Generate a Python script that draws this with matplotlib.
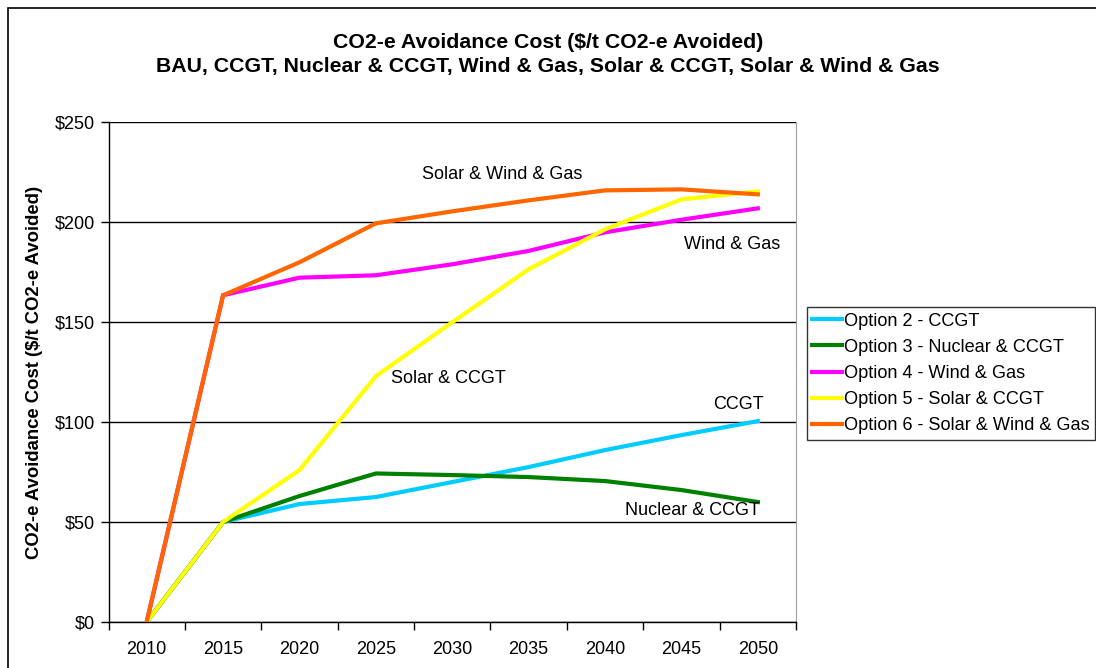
import numpy as np
import matplotlib.pyplot as plt
from matplotlib.patches import Rectangle

plt.rcParams['font.family'] = ['Liberation Sans', 'DejaVu Sans']

years = ['2010', '2015', '2020', '2025', '2030', '2035', '2040', '2045', '2050']
ccgt = [0, 50, 59, 62.5, 70, 77.5, 86, 93.5, 100.5]
nuclear_ccgt = [0, 50, 63, 74.3, 73.5, 72.5, 70.5, 66, 60]
wind_gas = [0, 163.5, 172.3, 173.5, 179, 185.7, 195, 201.3, 207]
solar_ccgt = [0, 50, 76, 123, 150, 176.5, 196.5, 211.5, 215.5]
solar_wind_gas = [0, 163.5, 180, 199.5, 205.5, 211, 216, 216.5, 214]

series = [
    ('Option 2 - CCGT', ccgt, '#00CCFF'),
    ('Option 3 - Nuclear & CCGT', nuclear_ccgt, '#008000'),
    ('Option 4 - Wind & Gas', wind_gas, '#FF00FF'),
    ('Option 5 - Solar & CCGT', solar_ccgt, '#FFFF00'),
    ('Option 6 - Solar & Wind & Gas', solar_wind_gas, '#FF6600'),
]

fig = plt.figure(figsize=(10.96, 6.68), dpi=100)
ax = fig.add_axes([0.099, 0.069, 0.6273, 0.7477])

x = np.arange(len(years))
for label, vals, color in series:
    ax.plot(x, vals, color=color, lw=3.0, label=label, solid_joinstyle='miter', zorder=3)

ax.set_xlim(-0.5, len(years) - 0.5)
ax.set_ylim(0, 250)
ax.set_xticks(x)
ax.set_xticklabels(years, fontsize=13)
ax.set_xticks(np.arange(-0.5, len(years)), minor=True)
ax.tick_params(axis='x', which='major', length=0, pad=14)
ax.tick_params(axis='x', which='minor', length=6, width=1, direction='out')
ax.set_yticks([0, 50, 100, 150, 200, 250])
ax.set_yticklabels(['$0', '$50', '$100', '$150', '$200', '$250'], fontsize=13)
ax.tick_params(axis='y', length=6, width=1, direction='out', pad=4)
ax.yaxis.grid(True, color='black', lw=1)
ax.set_axisbelow(True)
ax.spines['top'].set_visible(False)
ax.spines['right'].set_color('#A0A0A0')
ax.spines['left'].set_linewidth(1)
ax.spines['bottom'].set_linewidth(1)

ax.set_ylabel('CO2-e Avoidance Cost ($/t CO2-e Avoided)', fontsize=13.3,
              fontweight='bold', labelpad=8)

# series labels
ax.text(4.66, 224, 'Solar & Wind & Gas', fontsize=13, ha='center', va='center')
ax.text(7.66, 189, 'Wind & Gas', fontsize=13, ha='center', va='center')
ax.text(3.95, 122, 'Solar & CCGT', fontsize=13, ha='center', va='center')
ax.text(7.74, 109, 'CCGT', fontsize=13, ha='center', va='center')
ax.text(7.14, 56, 'Nuclear & CCGT', fontsize=13, ha='center', va='center')

fig.text(0.5, 0.937, 'CO2-e Avoidance Cost ($/t CO2-e Avoided)', fontsize=15.3,
         fontweight='bold', ha='center', va='center')
fig.text(0.5, 0.901, 'BAU, CCGT, Nuclear & CCGT, Wind & Gas, Solar & CCGT, Solar & Wind & Gas',
         fontsize=15.3, fontweight='bold', ha='center', va='center')

leg = ax.legend(loc='upper left', bbox_to_anchor=(1.016, 0.63), fontsize=13.1,
                frameon=True, fancybox=False, edgecolor='black', borderpad=0.3,
                handlelength=1.6, handletextpad=0.15, labelspacing=0.5,
                borderaxespad=0)
leg.get_frame().set_linewidth(1)

# outer chart border
fig.patches.append(Rectangle((8 / 1096, -0.01), 1.02, 1 - 8 / 668 + 0.01,
                             transform=fig.transFigure, fill=False,
                             edgecolor='black', lw=1.2))

fig.savefig('out.png', dpi=100)
